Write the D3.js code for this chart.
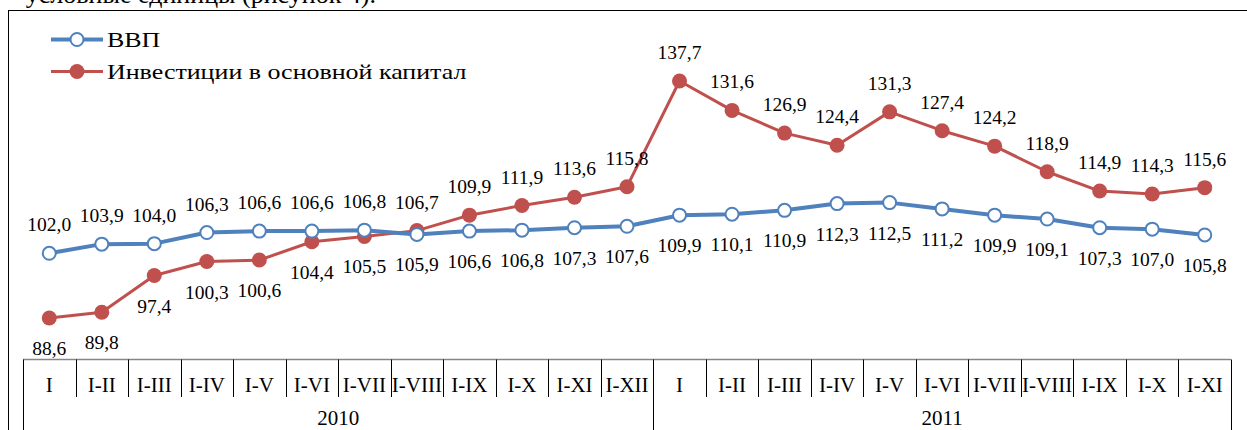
<!DOCTYPE html>
<html><head><meta charset="utf-8">
<script src="https://cdn.jsdelivr.net/npm/d3@7"></script>
<style>
html,body{margin:0;padding:0;background:#fff;}
svg{display:block;}
</style></head>
<body>
<svg id="chart" width="1247" height="430"></svg>
<script>
const years = ["2010", "2011"];
const months2010 = ["I","I-II","I-III","I-IV","I-V","I-VI","I-VII","I-VIII","I-IX","I-X","I-XI","I-XII"];
const months2011 = ["I","I-II","I-III","I-IV","I-V","I-VI","I-VII","I-VIII","I-IX","I-X","I-XI"];
const gdp = [102.0,103.9,104.0,106.3,106.6,106.6,106.8,105.9,106.6,106.8,107.3,107.6,
             109.9,110.1,110.9,112.3,112.5,111.2,109.9,109.1,107.3,107.0,105.8];
const invest = [88.6,89.8,97.4,100.3,100.6,104.4,105.5,106.7,109.9,111.9,113.6,115.8,
                137.7,131.6,126.9,124.4,131.3,127.4,124.2,118.9,114.9,114.3,115.6];
const gdpLabelPos = ["a","a","a","a","a","a","a","b","b","b","b","b","b","b","b","b","b","b","b","b","b","b","b"];
const investLabelPos = ["b","b","b","b","b","b","b","a","a","a","a","a","a","a","a","a","a","a","a","a","a","a","a"];
const seriesNames = ["ВВП", "Инвестиции в основной капитал"];
const yDomain = [80, 140];

const FONT = "'Liberation Serif', 'Times New Roman', Tinos, serif";
const cats = [...months2010.map((m,i)=>({key:"2010-"+i,label:m,year:"2010"})),
              ...months2011.map((m,i)=>({key:"2011-"+i,label:m,year:"2011"}))];

const svg = d3.select("#chart");
const left = 23, right = 1231, axisY = 359.5;
const x = d3.scaleBand().domain(cats.map(c=>c.key)).range([left,right]).padding(0);
const y = d3.scaleLinear().domain(yDomain).range([axisY, axisY - 60*4.827]);
const BLUE = "#4F81BD", RED = "#C0504D";
const fmt = v => d3.format(".1f")(v).replace(".", ",");

function T(sel){ return sel.attr("font-family", FONT).attr("fill","#000"); }

// fragment of surrounding document text (cut at top)
T(svg.append("text")).attr("x", 376).attr("y", 3).attr("text-anchor","end")
  .attr("font-size","26px").text("условные единицы (рисунок 4).");

// outer chart frame
svg.append("rect").attr("x",8.5).attr("y",10.5).attr("width",1260).attr("height",440)
  .attr("fill","none").attr("stroke","#000").attr("stroke-width",1);

// category axis
const ax = svg.append("g");
ax.append("line").attr("x1",left).attr("x2",right).attr("y1",axisY).attr("y2",axisY)
  .attr("stroke","#868686").attr("stroke-width",1.5);
const bounds = cats.map(c=>x(c.key)).concat([right]);
const yearBounds = [left, x("2011-0"), right];
ax.selectAll("line.tick").data(bounds).join("line").attr("class","tick")
  .attr("x1",d=>Math.round(d)+0.5).attr("x2",d=>Math.round(d)+0.5)
  .attr("y1",axisY).attr("y2",d=>yearBounds.some(b=>Math.abs(b-d)<0.5)?432:397)
  .attr("stroke","#000").attr("stroke-width",1);
T(ax.selectAll("text.cat").data(cats).join("text").attr("class","cat"))
  .attr("x",d=>x(d.key)+x.bandwidth()/2).attr("y",392)
  .attr("text-anchor","middle").attr("font-size","21px").text(d=>d.label);
T(ax.selectAll("text.year").data(years).join("text").attr("class","year"))
  .attr("x",(d,i)=>(yearBounds[i]+yearBounds[i+1])/2).attr("y",425)
  .attr("text-anchor","middle").attr("font-size","21px").text(d=>d);

const cx = i => x(cats[i].key) + x.bandwidth()/2;
const line = d3.line().x((d,i)=>cx(i)).y(d=>y(d));

// investment series
svg.append("path").datum(invest).attr("d",line).attr("fill","none")
  .attr("stroke",RED).attr("stroke-width",3).attr("stroke-linejoin","round");
// gdp series
svg.append("path").datum(gdp).attr("d",line).attr("fill","none")
  .attr("stroke",BLUE).attr("stroke-width",4).attr("stroke-linejoin","round");

svg.selectAll("circle.inv").data(invest).join("circle").attr("class","inv")
  .attr("cx",(d,i)=>cx(i)).attr("cy",d=>y(d)).attr("r",7.5).attr("fill",RED);
svg.selectAll("circle.gdp").data(gdp).join("circle").attr("class","gdp")
  .attr("cx",(d,i)=>cx(i)).attr("cy",d=>y(d)).attr("r",6.5)
  .attr("fill","#fff").attr("stroke",BLUE).attr("stroke-width",2);

function labels(data, pos, cls){
  T(svg.selectAll("text."+cls).data(data).join("text").attr("class",cls))
    .attr("x",(d,i)=>cx(i))
    .attr("y",(d,i)=>pos[i]==="a" ? y(d)-22 : y(d)+37)
    .attr("text-anchor","middle").attr("font-size","19.5px").text(fmt);
}
labels(gdp, gdpLabelPos, "lg");
labels(invest, investLabelPos, "li");

// legend
const lg = svg.append("g");
const legendItems = [{name:seriesNames[0],color:BLUE,open:true,y:39.5},
                     {name:seriesNames[1],color:RED,open:false,y:71.5}];
legendItems.forEach(it=>{
  lg.append("line").attr("x1",51).attr("x2",103).attr("y1",it.y).attr("y2",it.y)
    .attr("stroke",it.color).attr("stroke-width",it.open?4:3);
  lg.append("circle").attr("cx",77).attr("cy",it.y).attr("r",it.open?6.5:7.5)
    .attr("fill",it.open?"#fff":it.color).attr("stroke",it.open?it.color:"none").attr("stroke-width",2);
  T(lg.append("text")).attr("transform",`translate(107,${it.y+7.5}) scale(1.18,1)`)
    .attr("font-size","22px").text(it.name);
});
</script>
</body></html>
